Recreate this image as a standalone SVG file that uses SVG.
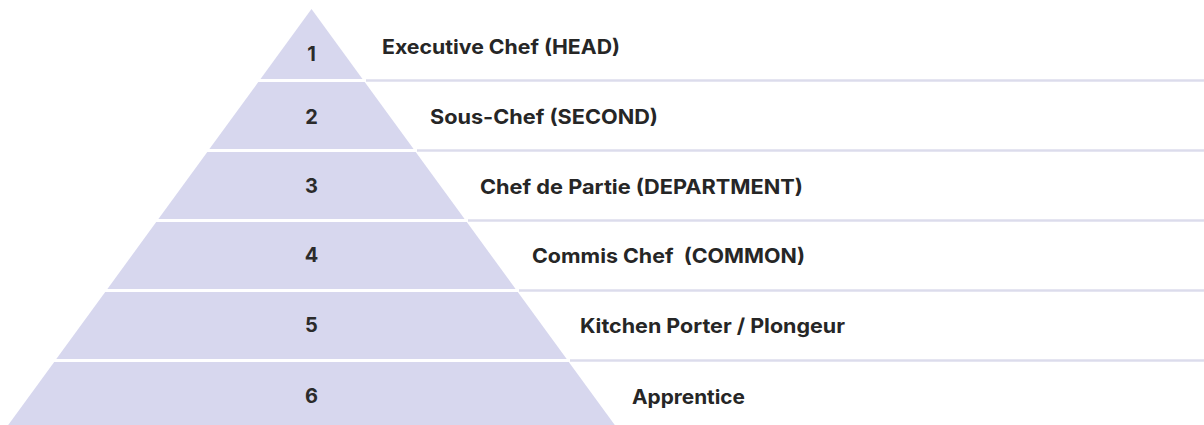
<svg xmlns="http://www.w3.org/2000/svg" width="1204" height="425" viewBox="0 0 1204 425">
  <style>
    .tier { fill: #d7d7ee; }
    .rule { stroke: #dcdcec; stroke-width: 2.5; fill: none; }
    .num { font-family: Inter, "Liberation Sans", sans-serif; font-weight: 700; font-size: 20px; fill: #2b2b2b; text-anchor: middle; }
    .role { font-family: Inter, "Liberation Sans", sans-serif; font-weight: 700; font-size: 20px; fill: #262626; }
  </style>
  <rect width="1204" height="425" fill="#ffffff"/>

  <!-- row separators running right from the pyramid -->
  <g id="connectors">
    <line class="rule" x1="366" y1="80.5" x2="1204" y2="80.5"/>
    <line class="rule" x1="417" y1="150.5" x2="1204" y2="150.5"/>
    <line class="rule" x1="468" y1="220.5" x2="1204" y2="220.5"/>
    <line class="rule" x1="519" y1="290.5" x2="1204" y2="290.5"/>
    <line class="rule" x1="570" y1="360.5" x2="1204" y2="360.5"/>
  </g>

  <g id="tier-1">
    <polygon class="tier" points="311.5,9 362.5,79 260.5,79"/>
    <text class="num" x="311.5" y="61">1</text>
    <text class="role" x="382" y="54" textLength="238" lengthAdjust="spacingAndGlyphs">Executive Chef (HEAD)</text>
  </g>
  <g id="tier-2">
    <polygon class="tier" points="258.3,82 364.7,82 413.6,149 209.4,149"/>
    <text class="num" x="311.5" y="124">2</text>
    <text class="role" x="430" y="124" textLength="228" lengthAdjust="spacingAndGlyphs">Sous-Chef (SECOND)</text>
  </g>
  <g id="tier-3">
    <polygon class="tier" points="207.3,152 415.7,152 464.6,219 158.4,219"/>
    <text class="num" x="311.5" y="193">3</text>
    <text class="role" x="480" y="194" textLength="323" lengthAdjust="spacingAndGlyphs">Chef de Partie (DEPARTMENT)</text>
  </g>
  <g id="tier-4">
    <polygon class="tier" points="156.2,222 466.8,222 515.6,289 107.4,289"/>
    <text class="num" x="311.5" y="262">4</text>
    <text class="role" x="532" y="263" textLength="273" lengthAdjust="spacingAndGlyphs" xml:space="preserve">Commis Chef  (COMMON)</text>
  </g>
  <g id="tier-5">
    <polygon class="tier" points="105.2,292 517.8,292 566.7,359 56.3,359"/>
    <text class="num" x="311.5" y="332">5</text>
    <text class="role" x="580" y="333" textLength="265" lengthAdjust="spacingAndGlyphs">Kitchen Porter / Plongeur</text>
  </g>
  <g id="tier-6">
    <polygon class="tier" points="54.2,362 568.8,362 617.7,429 5.3,429"/>
    <text class="num" x="311.5" y="403">6</text>
    <text class="role" x="632" y="404" textLength="113" lengthAdjust="spacingAndGlyphs">Apprentice</text>
  </g>
</svg>
